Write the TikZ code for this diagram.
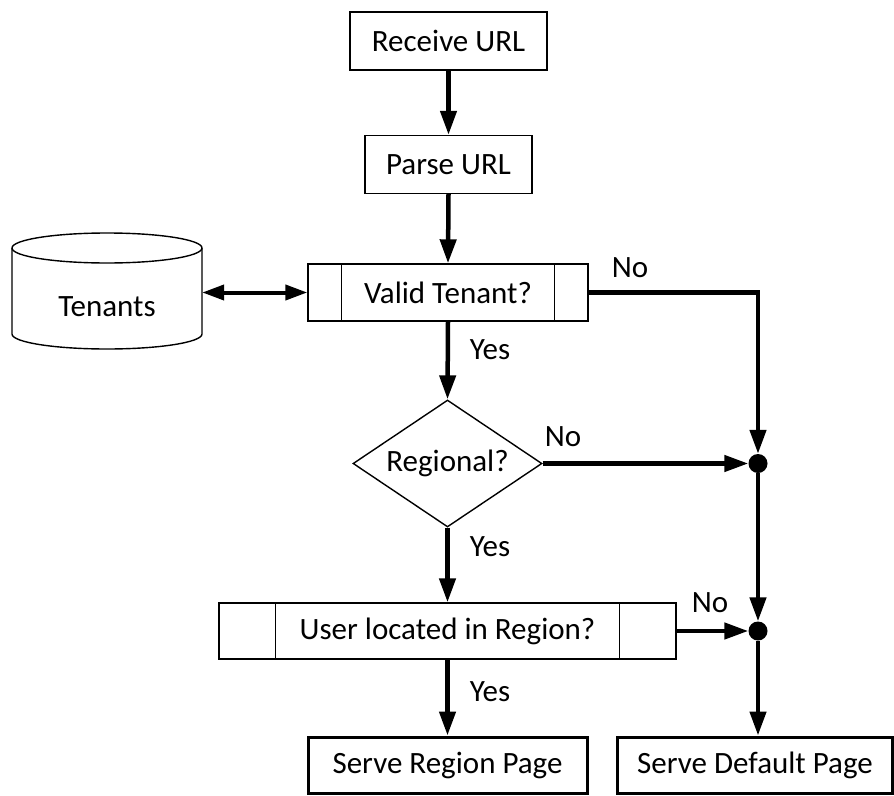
\documentclass[tikz,border=0pt]{standalone}
\usepackage{fontspec}
\setmainfont{Carlito}
\usetikzlibrary{arrows.meta,shapes.geometric,calc}
\begin{document}
\begin{tikzpicture}[x=1pt,y=-1pt,
  every node/.style={font=\fontsize{31}{37}\selectfont},
  box/.style={draw,line width=1.4pt,rectangle,inner sep=0pt},
  endbox/.style={draw,line width=3pt,rectangle,inner sep=0pt},
  arr/.style={line width=4.5pt,-{Triangle[length=24pt,width=16pt]}},
  darr/.style={line width=4pt,{Triangle[length=22pt,width=15pt]}-{Triangle[length=22pt,width=15pt]}},
  lbl/.style={inner sep=0pt},
  junction/.style={circle,fill=black,draw=none,minimum size=19pt,inner sep=0pt}
]
\useasboundingbox (0,0) rectangle (894,795);
\fill[white] (0,0) rectangle (894,795);

\node[box,minimum width=197pt,minimum height=58pt] (recv) at (448.5,41) {Receive URL};
\node[box,minimum width=167pt,minimum height=58pt] (parse) at (448.5,164.5) {Parse URL};

% cylinder
\node[minimum width=190pt,minimum height=116pt,inner sep=0pt] (tenants) at (107,291) {};
\draw[line width=1.4pt] (107,248) ellipse [x radius=95, y radius=15];
\draw[line width=1.4pt] (12,248) -- (12,334) arc[start angle=180,end angle=0,x radius=95,y radius=15] -- (202,248);
\node at (107,307) {Tenants};

\node[box,minimum width=280pt,minimum height=57pt] (tv) at (448,292.5) {Valid Tenant?};
\draw[line width=1.4pt] ([xshift=34pt]tv.north west) -- ([xshift=34pt]tv.south west);
\draw[line width=1.4pt] ([xshift=-34pt]tv.north east) -- ([xshift=-34pt]tv.south east);

\node[draw,line width=1.4pt,diamond,aspect=1.5,inner sep=0pt,minimum width=189pt,minimum height=127pt] (dia) at (447.5,463.5) {Regional?};

\node[box,minimum width=457pt,minimum height=56pt] (ul) at (447.5,631) {User located in Region?};
\draw[line width=1.4pt] ([xshift=57pt]ul.north west) -- ([xshift=57pt]ul.south west);
\draw[line width=1.4pt] ([xshift=-57pt]ul.north east) -- ([xshift=-57pt]ul.south east);

\node[endbox,minimum width=279pt,minimum height=56pt] (sr) at (447.5,765) {Serve Region Page};
\node[endbox,minimum width=275pt,minimum height=56pt] (sd) at (755,765) {Serve Default Page};

\node[junction] (d1) at (758,463.5) {};
\node[junction] (d2) at (758,631) {};

% connectors
\draw[arr] (recv.south) -- (parse.north);
\draw[arr] (parse.south) -- (tv.north);
\draw[darr] (tenants.east |- tv.west) -- (tv.west);
\draw[arr] (tv.south) -- (dia.north);
\draw[arr] (tv.east) -| (d1);
\draw[arr] (dia.east) -- (d1);
\draw[arr] (d1) -- (d2);
\draw[arr] (dia.south) -- (ul.north);
\draw[arr] (ul.east) -- (d2);
\draw[arr] (ul.south) -- (sr.north);
\draw[arr] (d2) -- (d2 |- sd.north);

% labels
\node[lbl] (l1) at (630,268) {No};
\node[lbl] (l2) at (490,350) {Yes};
\node[lbl] (l3) at (563,437) {No};
\node[lbl] (l4) at (490,547) {Yes};
\node[lbl] (l5) at (710,603) {No};
\node[lbl] (l6) at (490,692) {Yes};
\end{tikzpicture}
\end{document}
